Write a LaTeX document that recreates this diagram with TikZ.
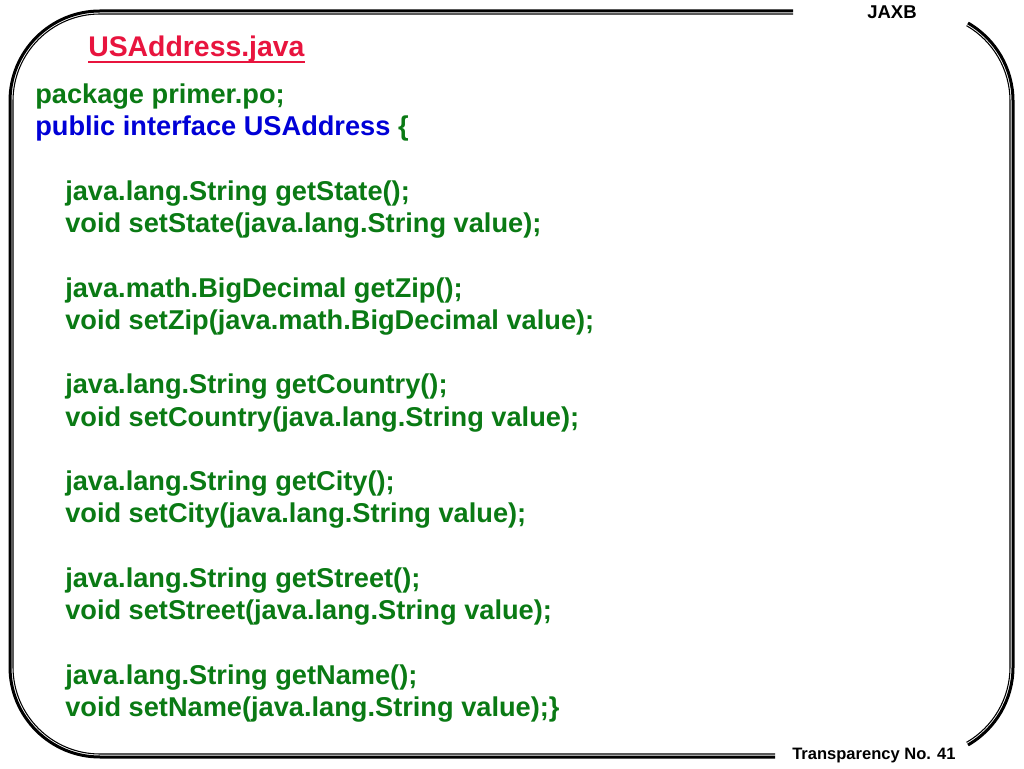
\documentclass[tikz,border=0pt]{standalone}
\usepackage{fontspec}
\setmainfont{Liberation Sans}
\definecolor{codegreen}{RGB}{10,122,20}
\definecolor{codeblue}{RGB}{0,0,215}
\definecolor{titlered}{RGB}{232,20,62}
\begin{document}
\begin{tikzpicture}[x=0.75pt,y=0.75pt,
  code/.style={anchor=base west, inner sep=0, font=\fontsize{20.4}{24}\selectfont\bfseries, text=codegreen},
  titletext/.style={anchor=base west, inner sep=0, font=\fontsize{21.3}{24}\selectfont\bfseries, text=titlered},
  headtext/.style={anchor=base west, inner sep=0, font=\fontsize{13.9}{16}\selectfont\bfseries, text=black},
  foottext/.style={anchor=base west, inner sep=0, font=\fontsize{12.4}{15}\selectfont\bfseries, text=black},
  outerline/.style={draw=black, line width=2.25pt},
  innerline/.style={draw=black, line width=0.8pt}]
\useasboundingbox (0,0) rectangle (1024,768);
\fill[white] (0,0) rectangle (1024,768);
% frame: outer thick line
\draw[outerline] (793,757) -- (100,757) arc[start angle=90,end angle=180,radius=90] -- (10,101) arc[start angle=180,end angle=270,radius=90] -- (775,11);
\draw[outerline] ([shift={(60:90)}]923,667) arc[start angle=60,end angle=0,radius=90] -- (1013,101) arc[start angle=0,end angle=-60,radius=90];
% frame: inner thin line
\draw[innerline] (793,754) -- (100,754) arc[start angle=90,end angle=180,radius=87] -- (13,101) arc[start angle=180,end angle=270,radius=87] -- (775,14);
\draw[innerline] ([shift={(60:87)}]923,667) arc[start angle=60,end angle=0,radius=87] -- (1010,101) arc[start angle=0,end angle=-60,radius=87];
% header and footer
\node[headtext] (head) at (867,749) {JAXB};
\node[foottext] (foot) at (792,9) {Transparency No. 41};
% title
\node[titletext] (title) at (88,711) {USAddress.java};
\draw[titlered, line width=1.9pt] ([yshift=-3.9pt]title.base west) -- ([yshift=-3.9pt]title.base east);
% code
\node[code] (l0) at (35,664.5) {package primer.po;};
\node[code] (l1) at (35,632.2) {\textcolor{codeblue}{public interface USAddress} \{};
\node[code] (l3) at (65,567.7) {java.lang.String getState();};
\node[code] (l4) at (65,535.4) {void setState(java.lang.String value);};
\node[code] (l6) at (65,470.9) {java.math.BigDecimal getZip();};
\node[code] (l7) at (65,438.7) {void setZip(java.math.BigDecimal value);};
\node[code] (l9) at (65,374.2) {java.lang.String getCountry();};
\node[code] (l10) at (65,341.9) {void setCountry(java.lang.String value);};
\node[code] (l12) at (65,277.4) {java.lang.String getCity();};
\node[code] (l13) at (65,245.1) {void setCity(java.lang.String value);};
\node[code] (l15) at (65,180.6) {java.lang.String getStreet();};
\node[code] (l16) at (65,148.3) {void setStreet(java.lang.String value);};
\node[code] (l18) at (65,83.8) {java.lang.String getName();};
\node[code] (l19) at (65,51.6) {void setName(java.lang.String value);\}};
\end{tikzpicture}
\end{document}
